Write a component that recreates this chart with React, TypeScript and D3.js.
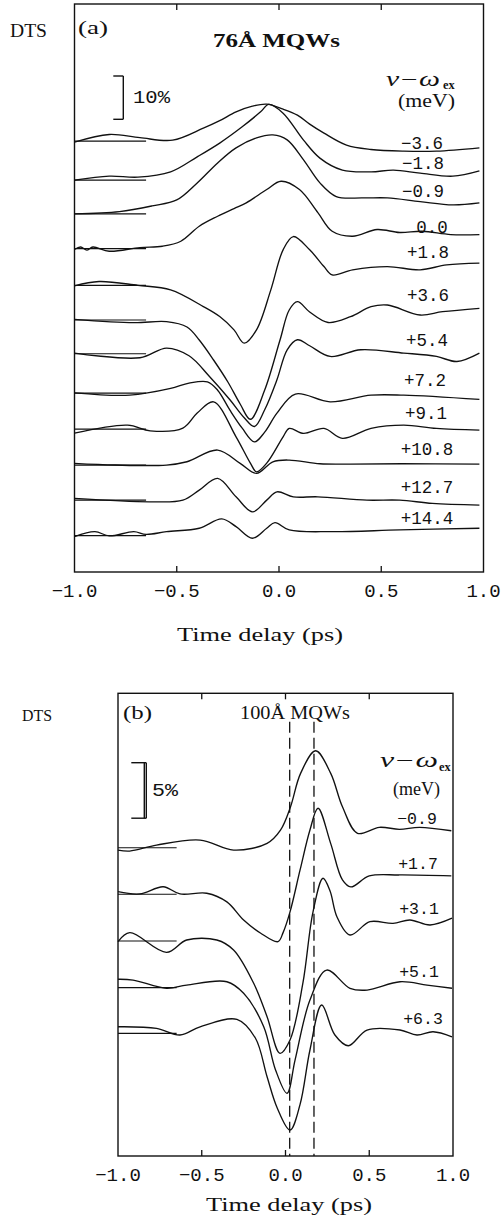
import React from "react";
import * as d3 from "d3";

type Pt = [number, number];

// ---------- shared axis ----------
const tickValues = [-1.0, -0.5, 0.0, 0.5, 1.0];
const tickLabels = ["−1.0", "−0.5", "0.0", "0.5", "1.0"];
const innerTicks = [-0.5, 0.0, 0.5];
const xLabel = "Time delay (ps)";
const baselineEnd = -0.65; // ps, end of the zero reference segments

// ---------- panel (a): 76Å MQWs, DTS change (%) vs delay (ps) ----------
const detuningA = ["−3.6", "−1.8", "−0.9", "0.0", "+1.8", "+3.6", "+5.4", "+7.2", "+9.1", "+10.8", "+12.7", "+14.4"];
const offsetA = [99.5, 90.5, 82.7, 74.7, 66.2, 58.2, 50.4, 41.3, 33.0, 24.7, 16.6, 8.4];

const a_m36: Pt[] = [[-1.0, -0.23], [-0.83, 1.55], [-0.68, 0.8], [-0.52, 0.23], [-0.37, 3.0], [-0.29, 4.73], [-0.21, 6.77], [-0.13, 8.08], [-0.06, 8.55], [0.02, 7.39], [0.09, 6.0], [0.15, 3.93], [0.22, 1.85], [0.33, -0.92], [0.45, -1.92], [0.61, -2.31], [0.77, -2.31], [0.98, -1.55]];
const a_m18: Pt[] = [[-1.0, 0], [-0.83, 0.92], [-0.69, 0.69], [-0.53, 1.92], [-0.4, 5.38], [-0.29, 8.55], [-0.18, 12.31], [-0.09, 15.77], [-0.05, 17.48], [0.02, 15.47], [0.12, 9.24], [0.2, 5.08], [0.31, 2.31], [0.45, 1.92], [0.56, 2.31], [0.69, 1.62], [0.85, 0.92], [0.98, 2.15]];
const a_m09: Pt[] = [[-1.0, 0], [-0.78, 0.53], [-0.62, 1.85], [-0.5, 3.23], [-0.4, 7.16], [-0.3, 11.78], [-0.21, 15.24], [-0.11, 17.55], [-0.03, 18.24], [0.04, 17.09], [0.12, 12.47], [0.2, 7.16], [0.28, 4.0], [0.41, 3.7], [0.53, 3.7], [0.69, 2.84], [0.85, 2.08], [0.98, 2.54]];
const a_00: Pt[] = [[-1.0, -0.23], [-0.97, 0.35], [-0.94, -0.35], [-0.91, 0.35], [-0.83, -0.62], [-0.68, 0.23], [-0.57, 0.53], [-0.48, 1.69], [-0.39, 5.15], [-0.3, 7.46], [-0.22, 9.24], [-0.16, 10.55], [-0.06, 13.63], [0.01, 15.55], [0.1, 13.63], [0.19, 8.31], [0.26, 4.0], [0.36, 2.84], [0.48, 4.39], [0.59, 3.7], [0.7, 4.0], [0.84, 3.23], [0.98, 3.23]];
const a_p18: Pt[] = [[-1.0, -0.12], [-0.88, 0.88], [-0.69, 0], [-0.53, -1.04], [-0.37, -4.9], [-0.29, -7.21], [-0.22, -10.28], [-0.17, -13.35], [-0.11, -10.28], [-0.04, -1.04], [0.02, 8.2], [0.07, 11.27], [0.15, 8.2], [0.22, 4.34], [0.26, 2.42], [0.36, 3.58], [0.53, 4.34], [0.69, 3.58], [0.82, 4.73], [0.98, 5.13]];
const a_p36: Pt[] = [[-1.0, 0.16], [-0.71, -0.62], [-0.55, -0.39], [-0.45, -1.62], [-0.39, -4.62], [-0.32, -9.24], [-0.25, -14.32], [-0.19, -19.4], [-0.14, -22.93], [-0.07, -16.17], [0.005, -4.62], [0.05, 2.31], [0.09, 4.23], [0.15, 1.85], [0.24, -0.58], [0.35, 0.76], [0.45, 3.07], [0.53, 3.46], [0.69, 1.15], [0.8, 1.92], [0.98, 2.7]];
const a_p54: Pt[] = [[-1.0, 0.16], [-0.68, -0.92], [-0.55, 1.32], [-0.44, -0.46], [-0.34, -5.24], [-0.24, -10.62], [-0.17, -14.78], [-0.12, -16.79], [-0.07, -12.93], [-0.01, -6.0], [0.04, 0.92], [0.09, 3.23], [0.15, 1.85], [0.25, -0.62], [0.4, 0.92], [0.61, 0.16], [0.77, -0.62], [0.87, -1.78], [0.98, 0.16]];
const a_p72: Pt[] = [[-1.0, 0.07], [-0.73, -0.46], [-0.53, 1.09], [-0.44, 2.31], [-0.35, 2.61], [-0.3, 0.69], [-0.24, -3.93], [-0.18, -8.08], [-0.12, -11.25], [-0.07, -9.0], [-0.01, -4.62], [0.08, -0.2], [0.25, -2.01], [0.45, -0.46], [0.61, -0.46], [0.98, -1.45]];
const a_p91: Pt[] = [[-1.0, -0.92], [-0.74, 0.92], [-0.63, -0.39], [-0.47, 0.23], [-0.4, 3.7], [-0.32, 6.3], [-0.21, -1.78], [-0.14, -7.85], [-0.11, -9.86], [-0.06, -7.85], [0.02, -1.78], [0.05, 0.16], [0.12, -0.99], [0.22, 0.16], [0.31, -2.15], [0.45, 0.16], [0.61, 0.92], [0.77, 0.16], [0.98, -0.23]];
const a_p108: Pt[] = [[-1.0, 0.39], [-0.8, 0.0], [-0.55, 0], [-0.45, 0.76], [-0.3, 3.46], [-0.19, 0.39], [-0.11, -1.92], [-0.03, 0.76], [0.05, 1.15], [0.2, 0.3], [0.35, 0.23], [0.6, 0.3], [0.98, 0.23]];
const a_p127: Pt[] = [[-1.0, 0.39], [-0.63, -0.39], [-0.47, 0], [-0.39, 2.31], [-0.3, 5.01], [-0.21, 0.76], [-0.13, -2.7], [-0.06, 0], [-0.01, 1.92], [0.07, 0.76], [0.19, 0.76], [0.43, 0], [0.59, 0], [0.75, -0.76], [0.98, -1.15]];
const a_p144: Pt[] = [[-1.0, -0.23], [-0.9, 0.92], [-0.83, -0.07], [-0.71, 0.92], [-0.65, 0.28], [-0.55, 0.92], [-0.39, 1.71], [-0.28, 3.86], [-0.21, 2.08], [-0.13, -0.6], [-0.06, 1.71], [-0.02, 3.0], [0.05, 1.32], [0.26, 0.92], [0.59, 1.32], [0.98, 1.71]];
const tracesA = [a_m36, a_m18, a_m09, a_00, a_p18, a_p36, a_p54, a_p72, a_p91, a_p108, a_p127, a_p144];

// ---------- panel (b): 100Å MQWs ----------
const detuningB = ["−0.9", "+1.7", "+3.1", "+5.1", "+6.3"];
const offsetB = [27.77, 23.58, 19.37, 15.16, 11.05];
const b_m09: Pt[] = [[-1.0, -0.21], [-0.93, -0.3], [-0.77, 0.24], [-0.51, 0.69], [-0.31, -0.21], [-0.11, 0.4], [-0.03, 1.59], [0.03, 3.69], [0.09, 6.7], [0.18, 8.74], [0.27, 6.7], [0.34, 3.69], [0.43, 1.3], [0.56, 1.84], [0.68, 1.66], [0.8, 1.84], [0.99, 1.53]];
const b_p17: Pt[] = [[-1.0, 0.23], [-0.87, 0.03], [-0.73, 0.68], [-0.63, 0.03], [-0.47, 0.09], [-0.35, -0.69], [-0.25, -2.32], [-0.15, -3.49], [-0.045, -4.27], [-0.015, -3.48], [0.027, -1.59], [0.087, 2.19], [0.146, 5.79], [0.194, 7.75], [0.27, 4.56], [0.34, 1.29], [0.39, 0.66], [0.5, 1.65], [0.68, 1.74], [0.99, 1.65]];
const b_p31: Pt[] = [[-1.0, -0.06], [-0.93, 0.75], [-0.71, -1.02], [-0.59, 0.09], [-0.41, 0.09], [-0.31, -0.81], [-0.19, -3.81], [-0.11, -6.82], [-0.033, -10.12], [0.027, -8.92], [0.104, -3.78], [0.164, 2.61], [0.224, 5.65], [0.266, 4.5], [0.307, 2.19], [0.385, 0.54], [0.504, 1.74], [0.642, 1.59], [0.743, 1.89], [0.863, 1.44], [0.994, 2.05]];
const b_p51: Pt[] = [[-1.0, 0.76], [-0.91, 0.69], [-0.71, -0.05], [-0.59, 0.24], [-0.35, 0.54], [-0.25, -0.5], [-0.13, -3.51], [-0.06, -7.38], [0.009, -9.51], [0.057, -6.52], [0.146, -1.11], [0.246, 1.59], [0.385, -0.05], [0.487, -0.21], [0.684, 0.54], [0.845, 0.24], [0.994, -0.05]];
const b_p63: Pt[] = [[-1.0, 0.59], [-0.77, 0.45], [-0.63, -0.15], [-0.51, 0.59], [-0.29, 1.26], [-0.18, -0.42], [-0.11, -3.91], [-0.05, -6.7], [0.027, -8.71], [0.087, -6.4], [0.146, -1.5], [0.216, 2.55], [0.295, -0.15], [0.375, -1.12], [0.487, 0.3], [0.684, 0.3], [0.785, -0.15], [0.881, 0.14], [0.994, -0.31]];
const tracesB = [b_m09, b_p17, b_p31, b_p51, b_p63];
const dashedTimes = [0.025, 0.17];

// ---------- layout (pixels) ----------
const SERIF = "'Liberation Serif', 'DejaVu Serif', serif";
const MONO = "'Liberation Mono', 'DejaVu Sans Mono', monospace";

const layoutA = {
  left: 74.5, right: 483.5, top: 4, bottom: 572, pxPerPct: 4.33,
  labelPos: [[422, 142.7], [423, 163], [423, 190.7], [432, 226.7], [428, 251.7], [428, 295], [427, 340], [425, 380], [426, 412.7], [427, 449.3], [427, 486.7], [427, 518.3]],
  labelSize: 17.5,
  tickBase: 596.5, xLabelX: 260, xLabelBase: 641,
  bar: { pct: 10, x: 123.3, top: 76, tick: 10, double: false, text: "10%", tx: 133, ty: 103, tw: 37 },
};
const layoutB = {
  left: 118, right: 453, top: 693.3, bottom: 1156, pxPerPct: 11.1,
  labelPos: [[417, 818.3], [418, 863.3], [419, 908], [419, 970.7], [423, 1018.3]],
  labelSize: 16.5,
  tickBase: 1181, xLabelX: 289, xLabelBase: 1211,
  bar: { pct: 5, x: 144.3, top: 762.7, tick: 13, double: true, text: "5%", tx: 152, ty: 796, tw: 26 },
};

type Layout = typeof layoutA;

function Panel({ L, traces, offsets, labels, dashed }: { L: Layout; traces: Pt[][]; offsets: number[]; labels: string[]; dashed?: number[] }) {
  const x = d3.scaleLinear().domain([-1, 1]).range([L.left, L.right]);
  const yMax = (L.bottom - L.top) / L.pxPerPct;
  const y = d3.scaleLinear().domain([0, yMax]).range([L.bottom, L.top]);
  const barLen = y(0) - y(L.bar.pct);
  return (
    <g>
      <rect x={L.left} y={L.top} width={L.right - L.left} height={L.bottom - L.top} fill="none" stroke="#111" strokeWidth={1.4} />
      {innerTicks.map((t) => (
        <g key={t}>
          <line x1={x(t)} x2={x(t)} y1={L.top} y2={L.top + 6} stroke="#111" strokeWidth={1.3} />
          <line x1={x(t)} x2={x(t)} y1={L.bottom} y2={L.bottom - 6} stroke="#111" strokeWidth={1.3} />
        </g>
      ))}
      {tickValues.map((t, i) => (
        <text key={t} x={x(t)} y={L.tickBase} textAnchor="middle" fontFamily={MONO} fontSize={19} fill="#111">{tickLabels[i]}</text>
      ))}
      <text x={L.xLabelX} y={L.xLabelBase} textAnchor="middle" fontFamily={SERIF} fontSize={19.5} textLength={166} lengthAdjust="spacingAndGlyphs" fill="#111">{xLabel}</text>
      {dashed && dashed.map((t) => (
        <line key={t} x1={x(t)} x2={x(t)} y1={L.top + 28.5} y2={L.bottom} stroke="#111" strokeWidth={1.3} strokeDasharray="11,5" />
      ))}
      {traces.map((tr, i) => {
        const off = offsets[i];
        const line = d3.line<Pt>().x((d) => x(d[0])).y((d) => y(off + d[1])).curve(d3.curveCatmullRom.alpha(0.5));
        return (
          <g key={i}>
            <line x1={x(-1)} x2={x(baselineEnd)} y1={y(off)} y2={y(off)} stroke="#111" strokeWidth={1.2} />
            <path d={line(tr) || ""} fill="none" stroke="#111" strokeWidth={1.35} strokeLinejoin="round" />
            <text x={L.labelPos[i][0]} y={L.labelPos[i][1] + 6} textAnchor="middle" fontFamily={MONO} fontSize={L.labelSize} fill="#111">{labels[i]}</text>
          </g>
        );
      })}
      <g stroke="#111" strokeWidth={1.4} fill="none">
        <line x1={L.bar.x} x2={L.bar.x} y1={L.bar.top} y2={L.bar.top + barLen} />
        {L.bar.double && <line x1={L.bar.x + 2} x2={L.bar.x + 2} y1={L.bar.top} y2={L.bar.top + barLen} />}
        <line x1={L.bar.x - L.bar.tick} x2={L.bar.x + (L.bar.double ? 2 : 0)} y1={L.bar.top} y2={L.bar.top} />
        <line x1={L.bar.x - L.bar.tick} x2={L.bar.x + (L.bar.double ? 2 : 0)} y1={L.bar.top + barLen} y2={L.bar.top + barLen} />
      </g>
      <text x={L.bar.tx} y={L.bar.ty} fontFamily={MONO} fontSize={19} textLength={L.bar.tw} lengthAdjust="spacingAndGlyphs" fill="#111">{L.bar.text}</text>
    </g>
  );
}

function Detuning({ x, base, subX, subBase, w, size }: { x: number; base: number; subX: number; subBase: number; w: number; size: number }) {
  return (
    <g fill="#111">
      <text x={x} y={base} fontFamily={SERIF} fontStyle="italic" fontSize={size} textLength={w} lengthAdjust="spacingAndGlyphs">ν−ω</text>
      <text x={subX} y={subBase} fontFamily={SERIF} fontWeight="bold" fontSize={size * 0.62}>ex</text>
    </g>
  );
}

export default function App() {
  return (
    <svg width={501} height={1217} style={{ position: "absolute", left: 0, top: 0, background: "#fff" }}>
      <rect width={501} height={1217} fill="#fff" />
      <Panel L={layoutA} traces={tracesA} offsets={offsetA} labels={detuningA} />
      <Panel L={layoutB} traces={tracesB} offsets={offsetB} labels={detuningB} dashed={dashedTimes} />
      {/* panel (a) annotations */}
      <text x={10} y={36.5} fontFamily={SERIF} fontSize={19} textLength={37} lengthAdjust="spacingAndGlyphs" fill="#111">DTS</text>
      <text x={78} y={34} fontFamily={SERIF} fontSize={19} textLength={30} lengthAdjust="spacingAndGlyphs" fill="#111">(a)</text>
      <text x={213} y={46.5} fontFamily={SERIF} fontWeight="bold" fontSize={19} textLength={127} lengthAdjust="spacingAndGlyphs" fill="#111">76Å MQWs</text>
      <Detuning x={386} base={86} subX={443} subBase={89} w={54} size={20} />
      <text x={398} y={107} fontFamily={SERIF} fontSize={18} textLength={57} lengthAdjust="spacingAndGlyphs" fill="#111">(meV)</text>
      {/* panel (b) annotations */}
      <text x={22} y={721} fontFamily={SERIF} fontSize={17} textLength={30} lengthAdjust="spacingAndGlyphs" fill="#111">DTS</text>
      <text x={123} y={719} fontFamily={SERIF} fontSize={18} textLength={29} lengthAdjust="spacingAndGlyphs" fill="#111">(b)</text>
      <text x={240} y={719} fontFamily={SERIF} fontSize={18} textLength={110} lengthAdjust="spacingAndGlyphs" fill="#111">100Å MQWs</text>
      <Detuning x={380} base={767} subX={439} subBase={771} w={58} size={20} />
      <text x={393} y={795} fontFamily={SERIF} fontSize={18} textLength={47} lengthAdjust="spacingAndGlyphs" fill="#111">(meV)</text>
    </svg>
  );
}
